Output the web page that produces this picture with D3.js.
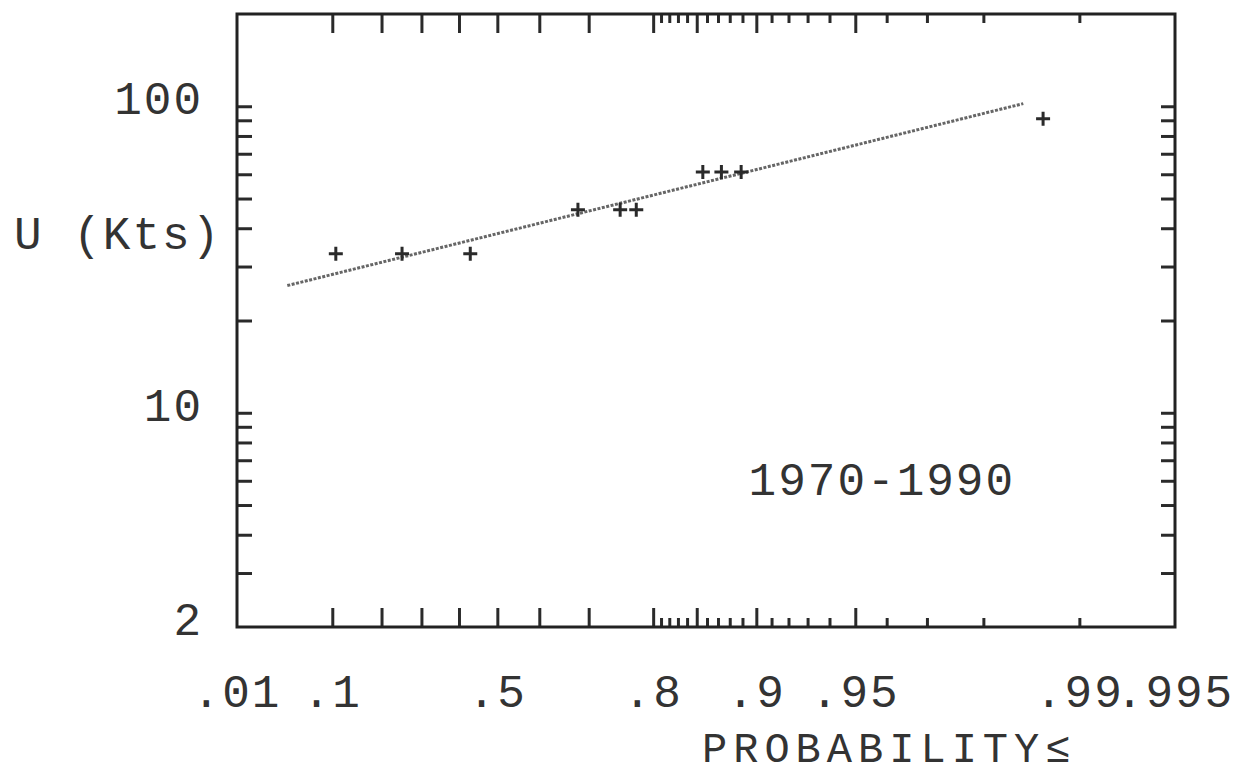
<!DOCTYPE html>
<html>
<head>
<meta charset="utf-8">
<script src="https://cdn.jsdelivr.net/npm/d3@7"></script>
<style>
  body { margin: 0; background: #fff; }
  text { font-family: "Liberation Mono", "DejaVu Sans Mono", monospace; fill: #333; }
</style>
</head>
<body>
<svg id="chart" width="1248" height="777"></svg>
<script>
// probability axis (Gumbel paper) labels and ticks
var probLabels = [0.01, 0.1, 0.5, 0.8, 0.9, 0.95, 0.99, 0.995];
var probLabelText = [".01", ".1", ".5", ".8", ".9", ".95", ".99", ".995"];
var probMajor = [0.1, 0.2, 0.3, 0.4, 0.5, 0.6, 0.7, 0.8, 0.85, 0.9, 0.95];
var probMinor = [0.81, 0.82, 0.83, 0.84, 0.86, 0.87, 0.88, 0.89,
                 0.91, 0.92, 0.93, 0.94, 0.96, 0.97, 0.98, 0.99];

// wind speed axis (log)
var speedTicks = [3, 4, 5, 6, 7, 8, 9, 10, 20, 30, 40, 50, 60, 70, 80, 90, 100];
var speedLabels = [2, 10, 100];

// observed annual maxima (plotting position, knots)
var obsProb  = [0.106, 0.25, 0.43, 0.68, 0.753, 0.777, 0.856, 0.873, 0.889, 0.987];
var obsSpeed = [33, 33, 33, 46, 46, 46, 61, 61, 61, 91];

// fitted line end points
var fitProb  = [0.041, 0.985];
var fitSpeed = [26, 102];

var period = "1970-1990";

var margin = {top: 14, right: 73, bottom: 150, left: 237},
    width = 1248 - margin.left - margin.right,
    height = 777 - margin.top - margin.bottom;

// reduced variate
function gumbel(p) { return -Math.log(-Math.log(p)); }

var gx = d3.scaleLinear()
    .domain([gumbel(0.01), gumbel(0.995)])
    .range([0, width]);
function x(p) { return gx(gumbel(p)); }

var y = d3.scaleLog()
    .domain([2, 200])
    .range([height, 0]);

var svg = d3.select("#chart");
var g = svg.append("g")
    .attr("transform", "translate(" + margin.left + "," + margin.top + ")");

function styleAxis(sel) {
    sel.select(".domain").remove();
    sel.selectAll("text").remove();
    sel.selectAll("line").attr("stroke", "#2a2a2a").attr("stroke-width", 3);
}

// x ticks, bottom and top, pointing inward
[[d3.axisBottom, height], [d3.axisTop, 0]].forEach(function(a) {
    g.append("g")
        .attr("transform", "translate(0," + a[1] + ")")
        .call(a[0](gx).tickValues(probMajor.map(gumbel)).tickSize(-19))
        .call(styleAxis);
    g.append("g")
        .attr("transform", "translate(0," + a[1] + ")")
        .call(a[0](gx).tickValues(probMinor.map(gumbel)).tickSize(-9))
        .call(styleAxis);
});

// y ticks, left and right
g.append("g")
    .call(d3.axisLeft(y).tickValues(speedTicks).tickSize(-15))
    .call(styleAxis);
g.append("g")
    .attr("transform", "translate(" + width + ",0)")
    .call(d3.axisRight(y).tickValues(speedTicks).tickSize(-14))
    .call(styleAxis);

// frame
g.append("rect")
    .attr("width", width)
    .attr("height", height)
    .attr("fill", "none")
    .attr("stroke", "#222")
    .attr("stroke-width", 3);

// fitted line
var line = d3.line()
    .x(function(d) { return x(d[0]); })
    .y(function(d) { return y(d[1]); });
g.append("path")
    .datum(d3.zip(fitProb, fitSpeed))
    .attr("d", line)
    .attr("fill", "none")
    .attr("stroke", "#666")
    .attr("stroke-width", 3)
    .attr("stroke-dasharray", "3,1.5");

// observations as plus marks
g.selectAll(".obs")
    .data(d3.zip(obsProb, obsSpeed))
    .enter().append("path")
    .attr("class", "obs")
    .attr("transform", function(d) { return "translate(" + x(d[0]) + "," + y(d[1]) + ")"; })
    .attr("d", "M-7,0H7M0,-7V7")
    .attr("stroke", "#2a2a2a")
    .attr("stroke-width", 3);

// y labels
g.selectAll(".ylab")
    .data(speedLabels)
    .enter().append("text")
    .attr("class", "ylab")
    .attr("x", -34)
    .attr("y", function(d) { return y(d) - 8; })
    .attr("dy", "0.35em")
    .attr("text-anchor", "end")
    .attr("font-size", 46)
    .attr("letter-spacing", 2)
    .text(function(d) { return d; });

// x labels
g.selectAll(".xlab")
    .data(probLabels)
    .enter().append("text")
    .attr("class", "xlab")
    .attr("x", function(d) { return x(d); })
    .attr("y", height + 80)
    .attr("text-anchor", "middle")
    .attr("font-size", 46)
    .attr("letter-spacing", 2)
    .text(function(d, i) { return probLabelText[i]; });

// axis titles
svg.append("text")
    .attr("x", 14)
    .attr("y", 249)
    .attr("font-size", 46)
    .attr("letter-spacing", 2)
    .text("U (Kts)");

svg.append("text")
    .attr("x", 702)
    .attr("y", 762)
    .attr("font-size", 42)
    .attr("letter-spacing", 6)
    .text("PROBABILITY\u2264");

// period annotation
g.append("text")
    .attr("x", x(0.9586))
    .attr("y", y(6.1))
    .attr("dy", "0.35em")
    .attr("text-anchor", "middle")
    .attr("font-size", 46)
    .attr("letter-spacing", 2)
    .text(period);
</script>
</body>
</html>
